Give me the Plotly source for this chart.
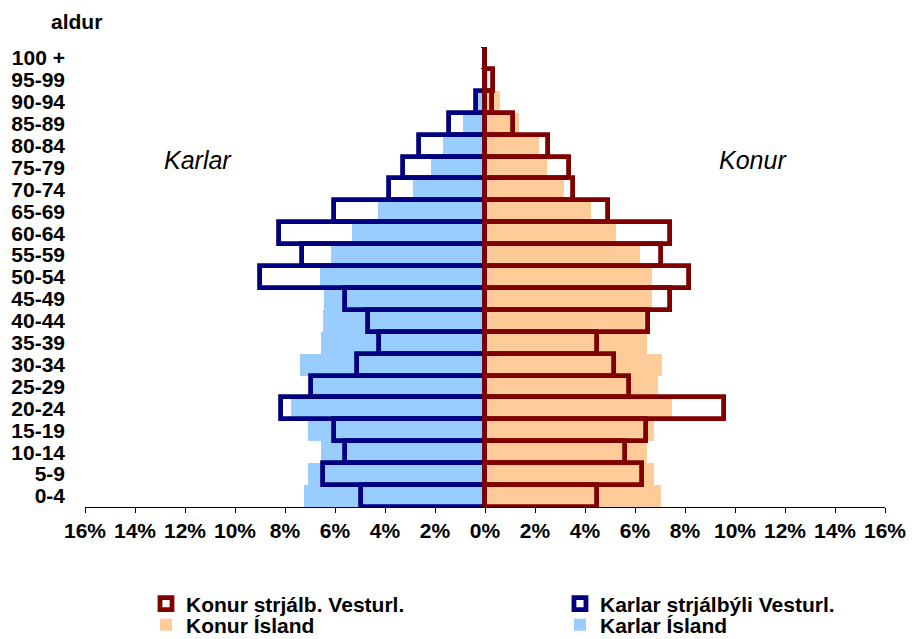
import plotly.graph_objects as go

ages = ["0-4", "5-9", "10-14", "15-19", "20-24", "25-29", "30-34", "35-39",
        "40-44", "45-49", "50-54", "55-59", "60-64", "65-69", "70-74", "75-79",
        "80-84", "85-89", "90-94", "95-99", "100 +"]

# percent of population (absolute values)
karlar_island = [7.24, 7.09, 6.55, 7.07, 7.77, 7.04, 7.39, 6.56, 6.49, 6.44, 6.60,
                 6.17, 5.33, 4.30, 2.87, 2.17, 1.70, 0.90, 0.28, 0.05, 0.00]
konur_island = [7.03, 6.76, 6.49, 6.76, 7.48, 6.91, 7.08, 6.49, 6.47, 6.68, 6.68,
                6.20, 5.23, 4.24, 3.16, 2.49, 2.17, 1.37, 0.60, 0.10, 0.00]
karlar_vest = [4.97, 6.49, 5.59, 6.04, 8.17, 6.96, 5.13, 4.23, 4.68, 5.59, 9.00,
               7.33, 8.24, 6.04, 3.84, 3.30, 2.64, 1.43, 0.36, 0.00, 0.00]
konur_vest = [4.49, 6.29, 5.60, 6.44, 9.56, 5.77, 5.17, 4.47, 6.53, 7.40, 8.17,
              7.04, 7.40, 4.91, 3.53, 3.37, 2.51, 1.13, 0.27, 0.33, 0.00]

tick_vals = list(range(-16, 17, 2))
tick_text = [f"{abs(v)}%" for v in tick_vals]

NAVY = "#000080"
DARKRED = "#800000"
LBLUE = "#99CCFF"
PEACH = "#FFCC99"
FONT = "Liberation Sans, Arial, sans-serif"

fig = go.Figure()

# filled bars (Ísland) on main y axis
fig.add_trace(go.Bar(
    y=ages, x=[-v for v in karlar_island], orientation="h", name="Karlar Ísland",
    marker=dict(color=LBLUE, line=dict(width=0)), yaxis="y", legend="legend4",
))
fig.add_trace(go.Bar(
    y=ages, x=konur_island, orientation="h", name="Konur Ísland",
    marker=dict(color=PEACH, line=dict(width=0)), yaxis="y", legend="legend3",
))
# outlined bars (strjálbýli Vesturlands) on overlay axis
fig.add_trace(go.Bar(
    y=ages, x=[-v for v in karlar_vest], orientation="h", name="Karlar strjálbýli Vesturl.",
    marker=dict(color="rgba(255,255,255,0)", line=dict(color=NAVY, width=4.8)),
    yaxis="y2", legend="legend2",
))
fig.add_trace(go.Bar(
    y=ages, x=konur_vest, orientation="h", name="Konur strjálb. Vesturl.",
    marker=dict(color="rgba(255,255,255,0)", line=dict(color=DARKRED, width=4.8)),
    yaxis="y2", legend="legend",
))

legend_common = dict(
    font=dict(family=FONT, size=21, color="black", weight="bold"),
    bgcolor="rgba(0,0,0,0)", xanchor="left", yanchor="top",
    xref="container", yref="container",
    orientation="v", itemclick=False, itemdoubleclick=False,
)

fig.update_layout(
    width=912, height=639,
    margin=dict(l=85, r=27, t=47, b=132, autoexpand=False),
    paper_bgcolor="white", plot_bgcolor="white",
    barmode="overlay", bargap=0,
    showlegend=True,
    font=dict(family=FONT, color="black"),
    xaxis=dict(
        range=[-16, 16], tickvals=tick_vals, ticktext=tick_text,
        showgrid=False, zeroline=False, showline=True, linecolor="black", linewidth=1,
        ticks="outside", ticklen=5, tickcolor="black",
        tickfont=dict(family=FONT, size=21, color="black", weight="bold"),
        ticklabelstandoff=0, fixedrange=True, automargin=False,
    ),
    yaxis=dict(
        type="category", categoryorder="array", categoryarray=ages,
        tickmode="linear", tick0=0, dtick=1,
        showgrid=False, zeroline=False, showline=False, ticks="",
        tickfont=dict(family=FONT, size=21, color="black", weight="bold"),
        ticklabelstandoff=19, fixedrange=True, automargin=False,
    ),
    yaxis2=dict(
        type="category", categoryorder="array", categoryarray=ages,
        overlaying="y", anchor="free", position=0.5, side="left",
        showgrid=False, zeroline=False, showline=True, linecolor="black", linewidth=1,
        ticks="outside", ticklen=4, tickcolor="black", tickson="boundaries",
        showticklabels=False, layer="below traces", fixedrange=True, automargin=False,
    ),
    legend=dict(x=0.1601, y=0.0870, **legend_common),
    legend2=dict(x=0.6140, y=0.0870, **legend_common),
    legend3=dict(x=0.1601, y=0.0540, **legend_common),
    legend4=dict(x=0.6140, y=0.0540, **legend_common),
    annotations=[
        dict(text="aldur", xref="paper", yref="paper", x=-0.011, y=1.056,
             xanchor="center", yanchor="middle", showarrow=False,
             font=dict(family=FONT, size=21, color="black", weight="bold")),
        dict(text="Karlar", xref="x", yref="paper", x=-11.5, y=0.755,
             xanchor="center", yanchor="middle", showarrow=False,
             font=dict(family=FONT, size=25, color="black", style="italic")),
        dict(text="Konur", xref="x", yref="paper", x=10.7, y=0.755,
             xanchor="center", yanchor="middle", showarrow=False,
             font=dict(family=FONT, size=25, color="black", style="italic")),
    ],
)

fig.write_html(
    "out.html",
    config={"displayModeBar": False, "staticPlot": False},
    post_script="document.body.style.margin='0';document.body.style.overflow='hidden';",
)
